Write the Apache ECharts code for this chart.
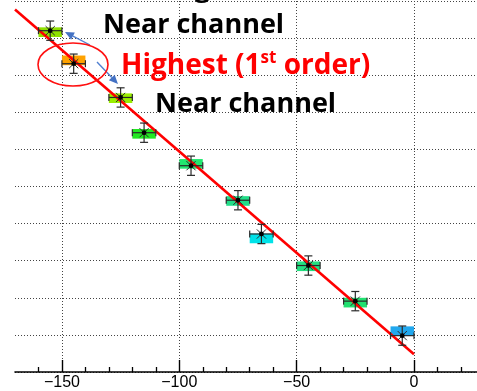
<!DOCTYPE html>
<html>
<head>
<meta charset="utf-8">
<style>
  html, body { margin: 0; padding: 0; background: #fff; }
  #chart { width: 477px; height: 391px; }
</style>
<script src="https://cdn.jsdelivr.net/npm/echarts@6/dist/echarts.min.js"></script>
</head>
<body>
<div id="chart"></div>
<script>
// Channel offsets (x) and measured peak positions (y)
const channelX = [-155, -145, -125, -115, -95, -75, -65, -45, -25, -5];
const measuredY = [9.20, 8.31, 7.40, 6.45, 5.56, 4.63, 3.72, 2.87, 1.91, 0.98];
// Centre of each channel's shaded band
const bandY = [9.16, 8.40, 7.38, 6.42, 5.61, 4.61, 3.60, 2.85, 1.87, 1.10];
// Error sizes
const xError = [5, 5, 5, 5, 5, 5, 5, 5, 5, 5];
const yError = [0.26, 0.26, 0.26, 0.26, 0.26, 0.26, 0.26, 0.26, 0.26, 0.26];
// Linear fit end points
const fitX = [-170, 0];
const fitY = [9.77, 0.48];
// Axis tick positions
const majorTicks = [-150, -100, -50, 0];
const minorTicks = [-160, -140, -130, -120, -110, -90, -80, -70, -60, -40, -30, -20, -10, 10, 20];

const bandColors = ['#8FE000', '#FFA200', '#99EE00', '#22E822', '#22E870',
                    '#22DD88', '#00E2E8', '#22E080', '#22E070', '#22A8EE'];
const BAND_HALF_W = 5;
const BAND_HALF_H = 0.13;

const chart = echarts.init(document.getElementById('chart'), null, { renderer: 'canvas' });

function minusSign(v) { return String(v).replace('-', '\u2212'); }

function renderBand(params, api) {
  const x = api.value(0), y = api.value(1);
  const p0 = api.coord([x - BAND_HALF_W, y + BAND_HALF_H]);
  const p1 = api.coord([x + BAND_HALF_W, y - BAND_HALF_H]);
  return {
    type: 'rect',
    shape: { x: p0[0], y: p0[1], width: p1[0] - p0[0], height: p1[1] - p0[1] },
    style: { fill: bandColors[params.dataIndex] }
  };
}

function renderPoint(params, api) {
  const x = api.value(0), y = api.value(1), ex = api.value(2), ey = api.value(3);
  const c = api.coord([x, y]);
  const l = api.coord([x - ex, y]), r = api.coord([x + ex, y]);
  const t = api.coord([x, y + ey]), b = api.coord([x, y - ey]);
  const stroke = { stroke: '#2a2a2a', lineWidth: 1.2 };
  const cap = 3.5, star = 6.5;
  const children = [
    { type: 'line', shape: { x1: l[0], y1: l[1], x2: r[0], y2: r[1] }, style: stroke },
    { type: 'line', shape: { x1: l[0], y1: l[1] - cap, x2: l[0], y2: l[1] + cap }, style: stroke },
    { type: 'line', shape: { x1: r[0], y1: r[1] - cap, x2: r[0], y2: r[1] + cap }, style: stroke },
    { type: 'line', shape: { x1: t[0], y1: t[1], x2: b[0], y2: b[1] }, style: stroke },
    { type: 'line', shape: { x1: t[0] - cap - 0.5, y1: t[1], x2: t[0] + cap + 0.5, y2: t[1] }, style: stroke },
    { type: 'line', shape: { x1: b[0] - cap - 0.5, y1: b[1], x2: b[0] + cap + 0.5, y2: b[1] }, style: stroke }
  ];
  // asterisk marker
  [45, 135].forEach(function (deg) {
    const a = deg * Math.PI / 180;
    children.push({
      type: 'line',
      shape: { x1: c[0] - star * Math.cos(a), y1: c[1] - star * Math.sin(a),
               x2: c[0] + star * Math.cos(a), y2: c[1] + star * Math.sin(a) },
      style: { stroke: '#2a2a2a', lineWidth: 1 }
    });
  });
  children.push({ type: 'circle', shape: { cx: c[0], cy: c[1], r: 2.4 }, style: { fill: '#000' } });
  return { type: 'group', children: children };
}

// Annotation arrows pointing to the neighbouring channels
function arrow(x1, y1, x2, y2) {
  const ang = Math.atan2(y2 - y1, x2 - x1);
  const len = 9, half = 4;
  const bx = x2 - len * Math.cos(ang), by = y2 - len * Math.sin(ang);
  const px = -Math.sin(ang) * half, py = Math.cos(ang) * half;
  return [
    { type: 'line', shape: { x1: x1, y1: y1, x2: bx, y2: by }, style: { stroke: '#4F7FD0', lineWidth: 1.4 }, z: 20 },
    { type: 'polygon', shape: { points: [[x2, y2], [bx + px, by + py], [bx - px, by - py]] }, style: { fill: '#4472C4' }, z: 20 }
  ];
}

const points = channelX.map(function (x, i) { return [x, measuredY[i], xError[i], yError[i]]; });
const bands = channelX.map(function (x, i) { return [x, bandY[i]]; });
const fit = fitX.map(function (x, i) { return [x, fitY[i]]; });

const labelFont = 'Liberation Sans, Arial, sans-serif';
const annotFont = '"Open Sans", "Noto Sans", sans-serif';

chart.setOption({
  animation: false,
  backgroundColor: '#ffffff',
  grid: { left: 15, right: 0, top: 1, bottom: 17, containLabel: false },
  xAxis: [
    {
      type: 'value', min: -170, max: 26.85,
      axisLine: { show: true, lineStyle: { color: '#000', width: 1.6 } },
      axisTick: { show: true, length: 5, inside: true, customValues: minorTicks, lineStyle: { color: '#000', width: 1.3 } },
      axisLabel: { show: false },
      splitLine: { show: false }
    },
    {
      type: 'value', min: -170, max: 26.85, position: 'bottom',
      axisLine: { show: false },
      axisTick: { show: true, length: 12, inside: true, customValues: majorTicks, lineStyle: { color: '#000', width: 1.4 } },
      axisLabel: {
        show: true, customValues: majorTicks, margin: 3, fontSize: 16, color: '#000',
        fontFamily: labelFont, formatter: minusSign
      },
      splitLine: { show: true, lineStyle: { color: '#444', width: 1, type: [1, 2] } }
    }
  ],
  yAxis: {
    type: 'value', min: 0, max: 10, interval: 1,
    axisLine: { show: false }, axisTick: { show: false }, axisLabel: { show: false },
    splitLine: { show: true, lineStyle: { color: '#444', width: 1, type: [1, 2] } }
  },
  series: [
    { type: 'custom', name: 'band', xAxisIndex: 0, renderItem: renderBand, data: bands, z: 2, clip: true },
    { type: 'line', name: 'fit', xAxisIndex: 0, data: fit, showSymbol: false, symbol: 'none',
      lineStyle: { color: '#FF0000', width: 2.6 }, z: 3, clip: true },
    { type: 'custom', name: 'measured', xAxisIndex: 0, renderItem: renderPoint, data: points, z: 4, clip: false }
  ],
  graphic: [
    { type: 'text', x: 210, y: 3, z: 30,
      style: { text: 'Lasing', align: 'right', verticalAlign: 'bottom', font: 'bold 27px ' + annotFont, fill: '#000' } },
    { type: 'text', x: 103, y: 25, z: 30,
      style: { text: 'Near channel', verticalAlign: 'middle', font: 'bold 27px ' + annotFont, fill: '#000' } },
    { type: 'text', x: 121, y: 66, z: 30,
      style: {
        text: '{a|Highest (1}{s|st}{a| order)}', verticalAlign: 'middle', fill: '#FF0000',
        rich: {
          a: { fontSize: 28, fontWeight: 'bold', fontFamily: annotFont, fill: '#FF0000', lineHeight: 32 },
          s: { fontSize: 17, fontWeight: 'bold', fontFamily: annotFont, fill: '#FF0000', lineHeight: 32, verticalAlign: 'top' }
        }
      } },
    { type: 'text', x: 155, y: 104, z: 30,
      style: { text: 'Near channel', verticalAlign: 'middle', font: 'bold 27px ' + annotFont, fill: '#000' } },
    { type: 'ellipse', shape: { cx: 73, cy: 64.5, rx: 35, ry: 21.5 }, z: 25,
      style: { fill: 'none', stroke: '#FF1010', lineWidth: 1.6 } }
  ].concat(arrow(90, 45, 65, 32)).concat(arrow(97, 62, 118, 84))
});
</script>
</body>
</html>
